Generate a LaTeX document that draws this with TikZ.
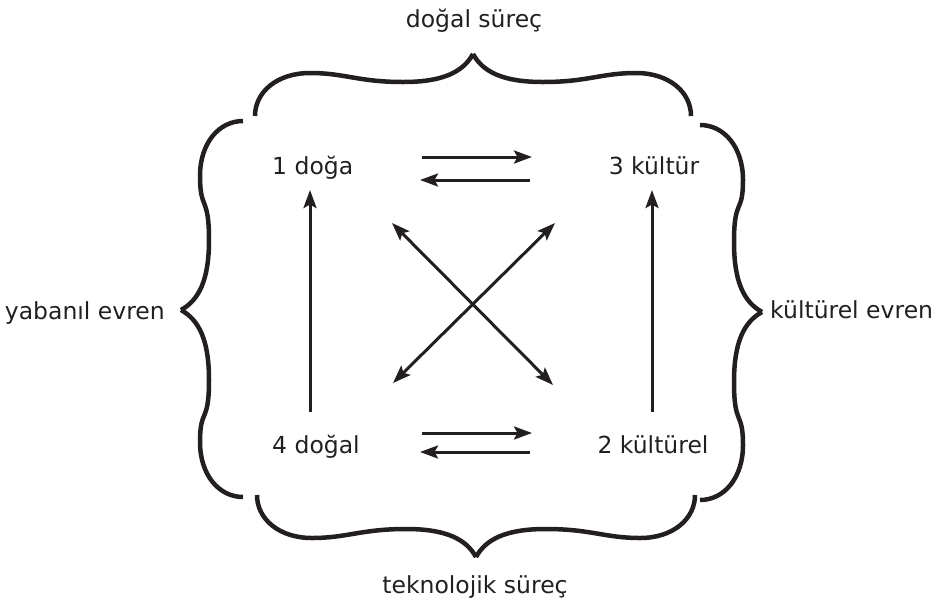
\documentclass[tikz,border=0pt]{standalone}
\usepackage{fontspec}
\setmainfont{DejaVu Sans}
\usetikzlibrary{arrows.meta}
\definecolor{ink}{HTML}{231F20}
\newcommand\halfbrace[1]{%
  \draw[brace] (0,0) .. controls (0,24) and (22,43) .. (55,43)
    .. controls (90,43) and ({#1-115},34) .. ({#1-70},34)
    .. controls ({#1-30},34) and ({#1-10},44) .. (#1,62);}
\begin{document}
\begin{tikzpicture}[x=1pt,y=-1pt,
  lbl/.style={inner sep=0pt, text=ink, font=\fontsize{23.5}{28}\selectfont},
  tip/.style={Stealth[length=18pt,width=13pt,inset=3.5pt]},
  arr/.style={draw=ink, line width=3pt, -{Stealth[length=18pt,width=13pt,inset=3.5pt]}},
  darr/.style={draw=ink, line width=3pt, {Stealth[length=18pt,width=13pt,inset=3.5pt]}-{Stealth[length=18pt,width=13pt,inset=3.5pt]}},
  brace/.style={draw=ink, line width=4.5pt, line cap=butt}]
\useasboundingbox (0,0) rectangle (945,606);
% nodes
\node[lbl, anchor=base west] (n1) at (272,174) {1 doğa};
\node[lbl, anchor=base] (n3) at (654,174) {3 kültür};
\node[lbl, anchor=base west] (n4) at (272,453) {4 doğal};
\node[lbl, anchor=base] (n2) at (653,453) {2 kültürel};
\node[lbl, anchor=base] (top) at (474,27) {doğal süreç};
\node[lbl, anchor=base] (bot) at (475,593) {teknolojik süreç};
\node[lbl, anchor=base east] (lft) at (165,319) {yabanıl evren};
\node[lbl, anchor=base west] (rgt) at (770,318) {kültürel evren};
% horizontal arrows
\draw[arr] ([shift={(150,-17)}]n1.base west) -- ([shift={(-122,-17)}]n3.base);
\draw[arr] ([shift={(-124,6)}]n3.base) -- ([shift={(148,6)}]n1.base west);
\draw[arr] ([shift={(150,-20)}]n4.base west) -- ([shift={(-121,-20)}]n2.base);
\draw[arr] ([shift={(-123,-1)}]n2.base) -- ([shift={(148,-1)}]n4.base west);
% vertical arrows
\draw[arr] ([shift={(38,-41)}]n4.base west) -- ([shift={(38,16)}]n1.base west);
\draw[arr] ([shift={(-1,-41)}]n2.base) -- ([shift={(-2,16)}]n3.base);
% diagonals
\draw[darr] ([shift={(120,49)}]n1.base west) -- ([shift={(-100,-68)}]n2.base);
\draw[darr] ([shift={(-99,49)}]n3.base) -- ([shift={(121,-70)}]n4.base west);
% braces
\begin{scope}[shift={(255,116)}, yscale=-1]\halfbrace{218}\end{scope}
\begin{scope}[shift={(691,116)}, xscale=-1, yscale=-1]\halfbrace{218}\end{scope}
\begin{scope}[shift={(257,495)}]\halfbrace{219}\end{scope}
\begin{scope}[shift={(695,495)}, xscale=-1]\halfbrace{219}\end{scope}
\begin{scope}[shift={(243,121)}, rotate=-90]\halfbrace{189}\end{scope}
\begin{scope}[shift={(243,497)}, rotate=-90, xscale=-1]\halfbrace{187}\end{scope}
\begin{scope}[shift={(700,125)}, rotate=90, xscale=-1]\halfbrace{187}\end{scope}
\begin{scope}[shift={(700,500)}, rotate=90]\halfbrace{188}\end{scope}
\end{tikzpicture}
\end{document}
